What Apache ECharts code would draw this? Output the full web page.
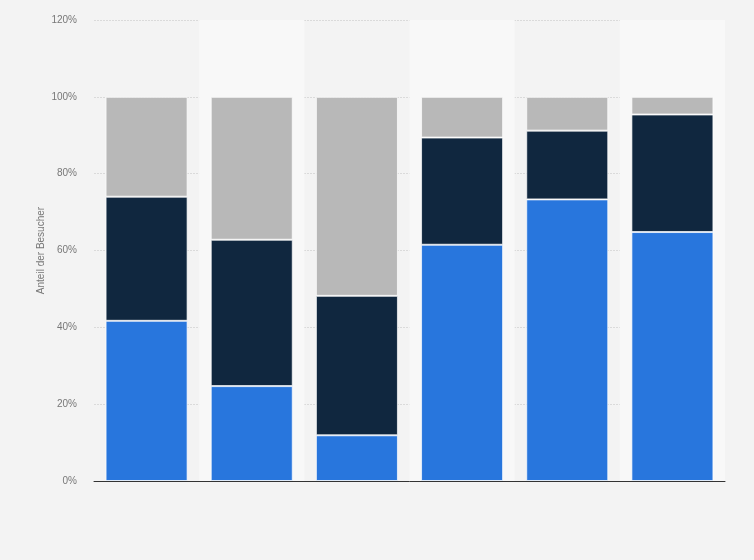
<!DOCTYPE html>
<html>
<head>
<meta charset="utf-8">
<script src="https://cdn.jsdelivr.net/npm/echarts@6/dist/echarts.min.js"></script>
<style>
  html, body { margin: 0; padding: 0; background: #f3f3f3; }
  #chart { width: 754px; height: 560px; }
</style>
</head>
<body>
<div id="chart"></div>
<script>
// Kategorien (keine Beschriftung im Original sichtbar)
const categories = ['1', '2', '3', '4', '5', '6'];
// Anteile in Prozent je Segment
const blueData = [41.7, 24.7, 11.9, 61.5, 73.3, 64.8];
const darkData = [32.3, 38.1, 36.3, 27.9, 17.9, 30.6];
const grayData = [26.0, 37.2, 51.8, 10.6, 8.8, 4.6];
const yTicks = [0, 20, 40, 60, 80, 100, 120];

const chart = echarts.init(document.getElementById('chart'));

const makeSeries = (name, data, color) => ({
  name: name,
  type: 'bar',
  stack: 'total',
  data: data,
  barWidth: '78%',
  itemStyle: {
    color: color,
    borderColor: 'rgba(255,255,255,0.7)',
    borderWidth: 1,
  },
  emphasis: { disabled: true },
});

const option = {
  backgroundColor: '#f3f3f3',
  animation: false,
  grid: {
    left: 94,
    right: 29,
    top: 20,
    bottom: 79,
  },
  xAxis: {
    type: 'category',
    data: categories,
    axisLine: { show: true, lineStyle: { color: '#333', width: 1 } },
    axisTick: { show: false },
    axisLabel: { show: false },
    splitArea: {
      show: true,
      areaStyle: { color: ['rgba(0,0,0,0)', '#f8f8f8'] },
    },
  },
  yAxis: {
    type: 'value',
    min: yTicks[0],
    max: yTicks[yTicks.length - 1],
    interval: 20,
    name: 'Anteil der Besucher',
    nameLocation: 'middle',
    nameGap: 48,
    nameMoveOverlap: false,
    nameTextStyle: { color: '#777', fontSize: 10, fontFamily: 'Arial, Liberation Sans, sans-serif' },
    axisLine: { show: false },
    axisTick: { show: false },
    axisLabel: {
      color: '#777',
      fontSize: 10,
      margin: 17,
      fontFamily: 'Arial, Liberation Sans, sans-serif',
      formatter: (v) => v + '%',
    },
    splitLine: {
      show: true,
      lineStyle: { color: '#dadada', type: [2, 1], width: 1 },
    },
  },
  series: [
    makeSeries('Blau', blueData, '#2876dd'),
    makeSeries('Dunkel', darkData, '#10273f'),
    makeSeries('Grau', grayData, '#b8b8b8'),
  ],
};

chart.setOption(option);
</script>
</body>
</html>
